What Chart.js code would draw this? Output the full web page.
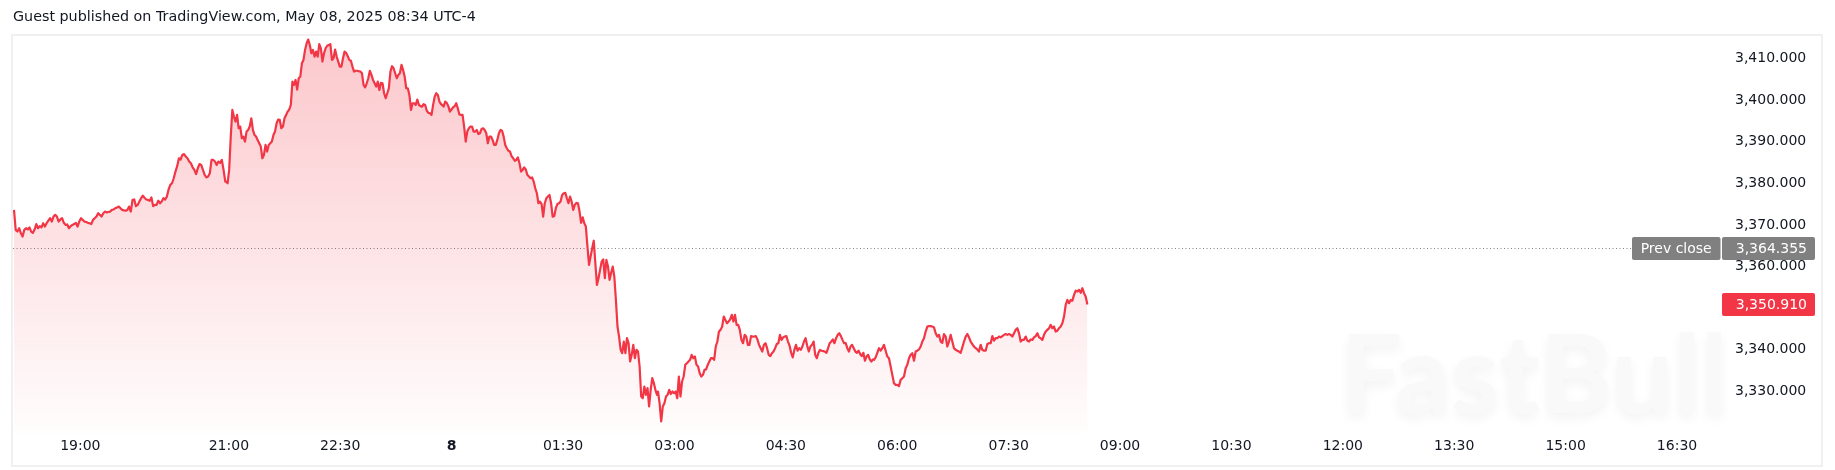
<!DOCTYPE html>
<html>
<head>
<meta charset="utf-8">
<script src="https://cdn.jsdelivr.net/npm/chart.js@4.4.1/dist/chart.umd.min.js"></script>
<style>
html,body{margin:0;padding:0;background:#ffffff;}
#wrap{position:relative;width:1835px;height:470px;}
</style>
</head>
<body>
<div id="wrap"><canvas id="c" width="1835" height="470"></canvas></div>
<script>
// ---- Data ----
const titleText = 'Guest published on TradingView.com, May 08, 2025 08:34 UTC-4';
const watermarkText = 'FastBull';
const prevClose = 3364.355;
const lastPrice = 3350.910;

// x tick positions, minutes relative to 00:00 on May 8 (negative = May 7 evening)
const xTickMinutes = [-300, -180, -90, 0, 90, 180, 270, 360, 450, 540, 630, 720, 810, 900, 990];
const yTickValues = [3330, 3340, 3350, 3360, 3370, 3380, 3390, 3400, 3410];

// time span (minutes from 00:00 May 8) covered by each traced segment
const segmentTimes = [[-353.6, -182.9], [-182.3, -8.6], [-7.8, 165.9], [166.7, 340.4], [341.2, 513.6]];

// 18:06 - 20:57
const seg1 = [3373.6,3368.8,3368.4,3369.2,3368.0,3367.2,3368.8,3369.2,3368.9,3369.4,
3368.4,3368.1,3368.9,3370.2,3369.2,3369.7,3369.4,3370.4,3369.6,3370.4,
3371.0,3371.6,3370.8,3372.0,3372.4,3372.0,3370.8,3371.3,3371.6,3370.5,
3370.0,3370.1,3369.2,3369.7,3370.0,3370.2,3370.5,3369.6,3370.8,3371.6,
3371.2,3370.8,3370.7,3370.5,3370.4,3370.2,3371.2,3371.6,3372.0,3372.8,
3372.4,3372.0,3372.8,3373.2,3373.0,3373.1,3373.2,3373.6,3373.7,3374.0,
3374.2,3374.4,3374.0,3373.6,3373.5,3373.4,3373.6,3374.4,3373.2,3376.0,
3376.1,3374.5,3374.8,3375.6,3376.4,3377.0,3376.5,3376.1,3376.0,3375.8,
3376.6,3374.5,3374.8,3374.8,3375.8,3375.2,3375.6,3376.4,3376.1,3376.8,
3378.5,3379.6,3380.0,3381.2,3382.8,3384.1,3386.0,3385.7,3386.8,3387.0,
3386.4,3386.0,3385.2,3384.8,3383.8,3383.2,3382.2,3383.6,3384.6,3384.4,
3383.2,3382.0,3381.4,3381.6,3382.4,3385.6,3385.6,3385.2,3384.4,3385.2,
3384.9,3385.6,3383.2,3380.4];

// 20:58 - 23:51
const seg2 = [3380.4,3380.0,3383.2,3391.2,3397.6,3396.0,3394.8,3396.4,3393.2,3393.6,
3390.8,3391.2,3390.0,3392.4,3392.8,3393.6,3395.6,3392.8,3391.6,3391.2,
3390.4,3389.6,3388.8,3386.0,3386.8,3389.2,3387.6,3389.2,3389.6,3390.0,
3391.6,3392.4,3394.4,3395.3,3395.2,3393.2,3393.6,3395.6,3396.4,3397.2,
3397.7,3398.8,3404.4,3403.6,3404.8,3402.5,3405.2,3405.6,3408.8,3409.6,
3412.0,3413.6,3414.5,3413.2,3411.2,3412.0,3410.4,3411.6,3410.4,3413.4,
3412.4,3409.2,3411.2,3412.4,3413.0,3413.2,3413.4,3409.6,3410.0,3412.1,
3410.4,3409.2,3408.0,3408.0,3410.0,3411.6,3411.3,3410.5,3409.6,3409.4,
3408.0,3406.8,3407.0,3407.0,3406.9,3406.8,3406.4,3403.6,3403.0,3404.0,
3405.2,3407.0,3406.0,3404.8,3404.0,3403.2,3404.4,3402.4,3404.1,3404.0,
3401.6,3400.4,3401.6,3402.8,3406.8,3408.1,3407.6,3406.4,3405.2,3406.0,
3406.4,3408.4,3407.2,3405.6,3402.8,3402.8,3401.2,3397.6,3399.2,3399.2,
3398.8,3400.1,3398.8,3398.5,3398.4,3399.0,3398.8,3397.4,3396.9,3396.8,
3396.4,3398.8,3400.8,3401.6,3401.2,3399.6,3399.0];

// 23:52 - 02:46
const seg3 = [3398.8,3398.4,3399.6,3399.3,3398.5,3397.2,3397.7,3398.2,3398.5,3399.2,
3398.0,3396.5,3396.4,3396.4,3393.6,3390.0,3392.4,3393.2,3393.6,3393.6,
3392.4,3392.4,3392.8,3391.8,3392.0,3393.0,3393.2,3392.8,3392.0,3389.6,
3391.2,3391.2,3390.4,3389.2,3389.2,3390.4,3392.0,3392.8,3392.6,3391.2,
3389.2,3388.4,3387.8,3387.6,3386.5,3386.0,3385.4,3385.6,3386.2,3384.8,
3382.8,3383.2,3383.8,3383.3,3382.0,3381.6,3381.2,3381.4,3380.4,3378.8,
3377.6,3375.2,3375.6,3375.0,3372.0,3375.2,3376.4,3376.8,3377.2,3375.2,
3372.0,3372.1,3374.0,3375.0,3375.2,3375.6,3377.2,3377.6,3377.7,3376.4,
3375.2,3376.8,3375.6,3373.6,3374.8,3375.3,3375.2,3373.2,3370.5,3371.8,
3370.4,3369.6,3364.8,3360.4,3362.4,3364.4,3366.2,3360.8,3355.6,3357.2,
3359.2,3361.2,3361.7,3357.2,3361.6,3360.0,3356.8,3358.5,3360.0,3357.6,
3352.0,3345.6,3343.2,3340.0,3339.2,3342.0,3339.2,3342.8,3341.6,3337.2,
3338.8,3341.2,3338.0,3340.0,3339.6,3336.0,3328.8,3328.4,3331.2,3329.2,
3330.8,3326.4,3330.4,3333.2,3332.0,3330.4,3329.2];

// 02:47 - 05:40
const seg4 = [3330.0,3327.2,3322.8,3326.4,3327.2,3328.8,3329.2,3330.4,3329.4,3330.0,
3329.6,3330.0,3328.4,3333.6,3328.8,3332.4,3333.6,3336.4,3336.8,3337.2,
3337.6,3338.8,3338.0,3338.4,3336.4,3336.0,3334.4,3333.6,3334.0,3335.2,
3335.3,3336.4,3337.2,3338.0,3338.0,3337.6,3340.8,3342.0,3344.4,3344.8,
3345.6,3348.0,3347.2,3346.4,3346.8,3347.3,3348.4,3346.8,3348.4,3346.0,
3346.0,3344.8,3342.4,3341.6,3343.6,3343.2,3341.2,3341.2,3343.3,3343.2,
3343.2,3343.3,3342.5,3341.2,3340.4,3339.6,3341.2,3341.6,3340.4,3338.8,
3338.5,3339.2,3339.6,3340.4,3341.4,3341.6,3343.6,3342.4,3343.0,3343.2,
3343.3,3342.0,3341.0,3339.3,3338.2,3340.0,3341.2,3339.8,3340.4,3340.0,
3340.8,3342.0,3342.8,3341.0,3339.6,3340.8,3341.2,3342.0,3338.8,3338.0,
3339.3,3340.0,3339.8,3339.7,3339.6,3339.3,3340.4,3341.6,3342.0,3342.5,
3341.6,3342.8,3343.6,3344.0,3343.3,3342.4,3341.6,3341.6,3340.4,3339.6,
3340.8,3341.2,3340.4,3339.6,3339.3,3339.8,3339.0,3338.5,3339.3,3337.4,
3338.4,3338.8,3337.7,3337.2,3337.7];

// 05:41 - 08:34
const seg5 = [3337.6,3338.2,3339.3,3340.4,3339.8,3340.4,3341.2,3339.8,3338.4,3338.0,
3336.0,3334.0,3332.0,3331.6,3331.6,3331.3,3332.8,3333.2,3333.6,3335.6,
3336.4,3338.0,3338.8,3339.2,3337.4,3339.6,3339.8,3340.1,3340.8,3342.0,
3342.8,3344.4,3345.6,3345.7,3345.7,3345.6,3345.4,3344.0,3343.2,3343.6,
3342.0,3341.7,3343.8,3343.2,3340.8,3342.0,3343.6,3342.0,3340.4,3340.0,
3339.8,3339.6,3339.3,3340.6,3342.0,3343.2,3343.8,3343.0,3342.0,3341.4,
3340.8,3340.4,3340.1,3339.6,3341.2,3340.0,3339.8,3339.8,3341.4,3341.6,
3341.6,3343.3,3342.2,3342.8,3342.8,3343.2,3343.0,3343.3,3343.6,3343.8,
3343.6,3343.8,3343.6,3343.2,3344.0,3344.8,3345.2,3344.0,3342.0,3342.4,
3342.4,3343.2,3342.2,3342.0,3342.5,3342.4,3343.0,3343.3,3344.0,3343.0,
3342.8,3342.4,3343.6,3344.4,3344.8,3345.2,3346.0,3345.2,3345.6,3344.4,
3344.6,3345.2,3345.6,3346.4,3348.0,3350.8,3352.0,3351.2,3352.0,3351.8,
3353.2,3354.2,3354.0,3354.4,3353.7,3354.8,3353.6,3352.8,3350.91];

// ---- Build points (time axis in minutes) ----
const segments = [seg1, seg2, seg3, seg4, seg5];
const points = [];
segments.forEach((seg, i) => {
  const [a, b] = segmentTimes[i];
  seg.forEach((v, j) => points.push({x: a + (b - a) * j / (seg.length - 1), y: v}));
});

const FONT = 'DejaVu Sans';
const RED = '#f23645';
const TEXT = '#131722';

function fmtPrice(v) {
  return Number(v).toLocaleString('en-US', {minimumFractionDigits: 3, maximumFractionDigits: 3});
}
function fmtTime(v) {
  if (v === 0) return '8';
  const m = ((v % 1440) + 1440) % 1440;
  const hh = Math.floor(m / 60), mm = Math.round(m % 60);
  return String(hh).padStart(2, '0') + ':' + String(mm).padStart(2, '0');
}

function roundRect(ctx, x, y, w, h, r) {
  ctx.beginPath();
  ctx.moveTo(x + r, y);
  ctx.lineTo(x + w - r, y);
  ctx.quadraticCurveTo(x + w, y, x + w, y + r);
  ctx.lineTo(x + w, y + h - r);
  ctx.quadraticCurveTo(x + w, y + h, x + w - r, y + h);
  ctx.lineTo(x + r, y + h);
  ctx.quadraticCurveTo(x, y + h, x, y + h - r);
  ctx.lineTo(x, y + r);
  ctx.quadraticCurveTo(x, y, x + r, y);
  ctx.closePath();
}

const watermarkPlugin = {
  id: 'watermark',
  beforeDraw(chart) {
    const ctx = chart.ctx;
    ctx.save();
    let size = 100;
    ctx.font = 'bold ' + size + 'px Lato';
    const w = ctx.measureText(watermarkText).width;
    size = size * 388 / w;
    ctx.font = 'bold ' + size + 'px Lato';
    ctx.fillStyle = '#f9f9f9';
    ctx.shadowColor = 'rgba(0,0,0,0.05)';
    ctx.shadowBlur = 12;
    ctx.shadowOffsetY = 5;
    ctx.textBaseline = 'alphabetic';
    ctx.textAlign = 'left';
    ctx.fillText(watermarkText, 1340, 413);
    ctx.restore();
  }
};

const overlayPlugin = {
  id: 'overlay',
  beforeDatasetsDraw(chart) {
    const {ctx, chartArea, scales: {y}} = chart;
    const py = Math.round(y.getPixelForValue(prevClose)) + 0.5;
    ctx.save();
    ctx.strokeStyle = '#808080';
    ctx.lineWidth = 1;
    ctx.setLineDash([1, 2.5]);
    ctx.beginPath();
    ctx.moveTo(chartArea.left, py);
    ctx.lineTo(1632, py);
    ctx.stroke();
    ctx.restore();
  },
  afterDraw(chart) {
    const {ctx, scales: {y}} = chart;
    ctx.save();
    // frame
    ctx.strokeStyle = '#f0f0f0';
    ctx.lineWidth = 2;
    ctx.strokeRect(12, 35, 1810, 431);
    // prev close labels
    const pc = y.getPixelForValue(prevClose);
    ctx.font = '14px "' + FONT + '"';
    ctx.textBaseline = 'middle';
    ctx.fillStyle = '#808080';
    roundRect(ctx, 1632, pc - 11.5, 88.5, 23, 2); ctx.fill();
    roundRect(ctx, 1722, pc - 11.5, 93, 23, 2); ctx.fill();
    ctx.fillStyle = '#ffffff';
    ctx.textAlign = 'center';
    ctx.fillText('Prev close', 1676.2, pc + 0.5);
    ctx.textAlign = 'right';
    ctx.fillText(fmtPrice(prevClose), 1807, pc + 0.5);
    // last price label
    const lp = y.getPixelForValue(lastPrice);
    ctx.fillStyle = RED;
    roundRect(ctx, 1722, lp - 11.5, 93, 23, 2); ctx.fill();
    ctx.fillStyle = '#ffffff';
    ctx.fillText(fmtPrice(lastPrice), 1807, lp + 0.5);
    ctx.restore();
  }
};

new Chart(document.getElementById('c'), {
  type: 'line',
  data: {
    datasets: [{
      data: points,
      borderColor: RED,
      borderWidth: 2.2,
      pointRadius: 0,
      tension: 0,
      borderJoinStyle: 'round',
      fill: 'start',
      backgroundColor: (context) => {
        const {chart} = context;
        const area = chart.chartArea;
        if (!area) return 'rgba(242,54,69,0.15)';
        const g = chart.ctx.createLinearGradient(0, area.top, 0, area.bottom);
        g.addColorStop(0, 'rgba(242,54,69,0.28)');
        g.addColorStop(1, 'rgba(242,54,69,0.01)');
        return g;
      }
    }]
  },
  options: {
    responsive: false,
    animation: false,
    devicePixelRatio: 1,
    layout: {padding: {left: 13, right: 0, top: 0, bottom: 0}},
    plugins: {
      legend: {display: false},
      tooltip: {enabled: false},
      title: {
        display: true,
        text: titleText,
        align: 'start',
        color: TEXT,
        font: {family: FONT, size: 14.3, weight: 'normal', lineHeight: 1.2},
        padding: {top: 9, bottom: 11}
      }
    },
    scales: {
      x: {
        type: 'linear',
        min: -354.4,
        max: 1023.1,
        grid: {display: false, drawTicks: false},
        border: {display: false},
        afterBuildTicks: (s) => { s.ticks = xTickMinutes.map(v => ({value: v})); },
        afterFit: (s) => { s.height = 37; },
        ticks: {
          padding: 5,
          color: TEXT,
          maxRotation: 0,
          autoSkip: false,
          font: (ctx) => ({family: FONT, size: 14, weight: (ctx.tick && ctx.tick.value === 0) ? 'bold' : 'normal'}),
          callback: (v) => fmtTime(v)
        }
      },
      y: {
        position: 'right',
        min: 3320.04,
        max: 3415.07,
        grid: {display: false, drawTicks: false},
        border: {display: false},
        afterBuildTicks: (s) => { s.ticks = yTickValues.map(v => ({value: v})); },
        afterFit: (s) => { s.width = 117; },
        ticks: {
          padding: 17,
          color: TEXT,
          font: {family: FONT, size: 14},
          callback: (v) => fmtPrice(v)
        }
      }
    }
  },
  plugins: [watermarkPlugin, overlayPlugin]
});
</script>
</body>
</html>
